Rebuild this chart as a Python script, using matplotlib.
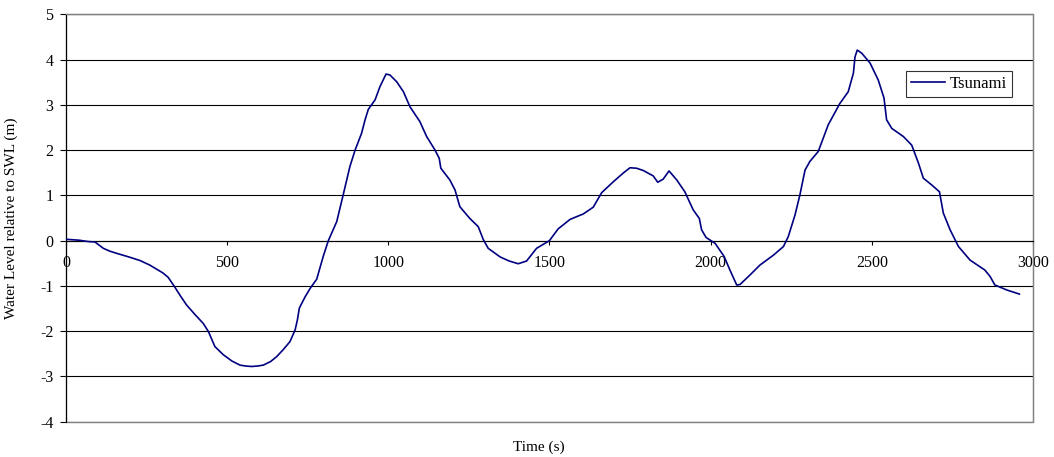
import matplotlib
matplotlib.use("Agg")
import matplotlib.pyplot as plt
from matplotlib.patches import Rectangle

plt.rcParams['font.family'] = ['Liberation Serif', 'DejaVu Serif']
plt.rcParams['axes.unicode_minus'] = False

# time (s) and water level (m)
time_s = [0, 40, 69, 90, 116, 135, 157, 195, 230, 260, 281, 300, 317, 338, 355,
          374, 400, 426, 442, 462, 488, 515, 540, 558, 576, 594, 612, 635, 654,
          675, 695, 711, 718, 724, 742, 758, 778, 798, 814, 840, 860, 881, 897,
          917, 928, 938, 959, 974, 993, 1005, 1026, 1047, 1067, 1098, 1119,
          1145, 1158, 1163, 1191, 1207, 1222, 1253, 1279, 1295, 1310, 1347,
          1375, 1403, 1429, 1460, 1500, 1527, 1564, 1605, 1636, 1662, 1698,
          1730, 1750, 1770, 1791, 1822, 1836, 1853, 1871, 1895, 1920, 1946,
          1965, 1972, 1986, 2014, 2042, 2060, 2081, 2091, 2122, 2153, 2195,
          2226, 2241, 2262, 2277, 2293, 2308, 2334, 2365, 2401, 2427, 2443,
          2448, 2455, 2469, 2495, 2520, 2538, 2546, 2562, 2598, 2624, 2645,
          2660, 2686, 2710, 2722, 2743, 2769, 2805, 2851, 2867, 2882, 2919,
          2958]
level_m = [0.03, 0.01, -0.02, -0.03, -0.17, -0.23, -0.28, -0.36, -0.44, -0.54,
           -0.63, -0.71, -0.81, -1.03, -1.22, -1.42, -1.63, -1.83, -2.01, -2.34,
           -2.52, -2.66, -2.75, -2.77, -2.78, -2.77, -2.75, -2.67, -2.56, -2.40,
           -2.23, -1.97, -1.75, -1.49, -1.24, -1.05, -0.85, -0.35, 0.0, 0.42,
           1.01, 1.64, 2.0, 2.37, 2.67, 2.90, 3.11, 3.40, 3.68, 3.66, 3.51,
           3.29, 2.96, 2.63, 2.30, 2.0, 1.82, 1.60, 1.34, 1.12, 0.75, 0.49,
           0.31, 0.02, -0.17, -0.36, -0.45, -0.51, -0.45, -0.17, 0.0, 0.26,
           0.47, 0.59, 0.74, 1.06, 1.30, 1.50, 1.61, 1.60, 1.55, 1.43, 1.29,
           1.36, 1.54, 1.34, 1.08, 0.68, 0.49, 0.24, 0.07, -0.06, -0.35, -0.65,
           -0.98, -0.97, -0.76, -0.54, -0.32, -0.13, 0.09, 0.57, 1.01, 1.56,
           1.75, 1.97, 2.56, 3.03, 3.29, 3.70, 4.06, 4.21, 4.14, 3.92, 3.55,
           3.15, 2.67, 2.48, 2.30, 2.11, 1.71, 1.38, 1.23, 1.08, 0.61, 0.24,
           -0.13, -0.43, -0.65, -0.79, -0.98, -1.09, -1.18]

x_ticks = [0, 500, 1000, 1500, 2000, 2500, 3000]
y_ticks = [-4, -3, -2, -1, 0, 1, 2, 3, 4, 5]

fig = plt.figure(figsize=(10.54, 4.57), dpi=100)
ax = fig.add_axes([0.0626, 0.0772, 0.9174, 0.8915])

ax.plot(time_s, level_m, color='#000080', lw=1.2, label='Tsunami', zorder=3,
        solid_joinstyle='round')

ax.set_xlim(0, 3000)
ax.set_ylim(-4, 5)
ax.set_xticks(x_ticks)
ax.set_yticks(y_ticks)

# horizontal grid lines, black
ax.yaxis.grid(True, color='black', lw=0.8)
ax.set_axisbelow(True)

# x axis crosses at y = 0
ax.spines['bottom'].set_position(('data', 0))
ax.spines['bottom'].set_color('black')
ax.spines['left'].set_color('black')
ax.spines['top'].set_color('#808080')
ax.spines['right'].set_color('#808080')
# grey plot-area border at the bottom
ax.add_patch(Rectangle((0, 0), 1, 1, transform=ax.transAxes, fill=False,
                       ec='#808080', lw=1.0, zorder=2.5, clip_on=False))

ax.tick_params(axis='x', direction='out', length=3, width=0.8, pad=7, labelsize=11.5)
ax.tick_params(axis='y', direction='out', length=4, width=0.8, pad=5, labelsize=11.5)

ax.set_xlabel('Time (s)', fontsize=11)
ax.xaxis.set_label_coords(0.489, -0.045)
ax.set_ylabel('Water Level relative to SWL (m)', fontsize=11)
ax.yaxis.set_label_coords(-0.05, 0.5)

leg = ax.legend(loc='upper right', bbox_to_anchor=(0.978, 0.861), fontsize=12,
                frameon=True, fancybox=False, handlelength=2.0,
                borderpad=0.3, handletextpad=0.3, borderaxespad=0)
leg.get_frame().set_edgecolor('black')
leg.get_frame().set_linewidth(0.8)

fig.savefig('out.png', dpi=100)
